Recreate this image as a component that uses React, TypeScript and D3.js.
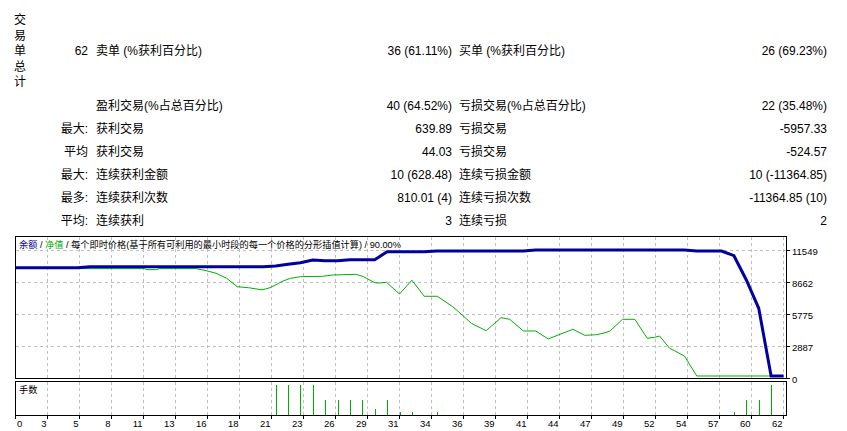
import * as d3 from "d3";

// trade statistics table
const titleChars = ["交", "易", "单", "总", "计"];
const statPrefix = ["62", "", "最大:", "平均", "最大:", "最多:", "平均:"];
const profitLabels = ["卖单 (%获利百分比)", "盈利交易(%占总百分比)", "获利交易", "获利交易", "连续获利金额", "连续获利次数", "连续获利"];
const profitValues = ["36 (61.11%)", "40 (64.52%)", "639.89", "44.03", "10 (628.48)", "810.01 (4)", "3"];
const lossLabels = ["买单 (%获利百分比)", "亏损交易(%占总百分比)", "亏损交易", "亏损交易", "连续亏损金额", "连续亏损次数", "连续亏损"];
const lossValues = ["26 (69.23%)", "22 (35.48%)", "-5957.33", "-524.57", "10 (-11364.85)", "-11364.85 (10)", "2"];

// chart axes
const xTickLabels = [0, 3, 5, 8, 11, 13, 16, 18, 21, 23, 26, 29, 31, 34, 36, 39, 41, 44, 47, 49, 52, 54, 57, 60, 62];
const yTicks = [0, 2887, 5775, 8662, 11549];

// balance after each trade (index 0..62)
const balance = [
  10000, 10000, 10000, 10000, 10000, 10000,
  10080, 10080, 10080, 10080, 10080, 10080, 10080, 10080, 10080, 10080, 10080, 10080, 10080, 10080, 10080,
  10151, 10304, 10448, 10692, 10629, 10629, 10719, 10719, 10719,
  11441, 11441, 11441, 11441,
  11504, 11504, 11504, 11504, 11504, 11504, 11504, 11504,
  11594, 11594, 11594, 11594, 11594, 11594, 11594, 11594, 11594, 11594, 11594, 11594, 11594,
  11504, 11504, 11504,
  11080, 8887, 6334, 226, 226,
];

// equity curve: position (trade number) and value
const equityPos = [0, 6.1, 10.4, 10.6, 11.4, 11.6, 14.6, 15.4, 16.2, 17.05, 17.9, 18.8, 19.9, 20.55, 21.6, 22.2, 23, 24.8, 25.6, 27.5, 28.1, 29, 29.4, 29.95, 31, 32, 33, 34.05, 35.3, 36.15, 36.8, 38, 39.2, 39.9, 41, 42, 43, 43.95, 45, 45.95, 46.9, 47.5, 48, 49, 50, 51, 51.6, 52, 52.8, 53.2, 54, 55, 62];
const equityVal = [10000, 9910, 9910, 9820, 9820, 9910, 9910, 9727, 9492, 9041, 8283, 8193, 8000, 8193, 8797, 9041, 9185, 9221, 9338, 9401, 9185, 8644, 8617, 8680, 7624, 8869, 7417, 7417, 6478, 5639, 4980, 4313, 5486, 5341, 4286, 4286, 3564, 3988, 4439, 3898, 3952, 4100, 4286, 5341, 5341, 3627, 3717, 3835, 2725, 2508, 2030, 226, 226];

// lots per trade
const lotPos = [21, 22, 23, 24, 25, 26, 27, 28, 29, 30, 31, 32, 34, 58, 59, 60, 61];
const lotVal = [1, 1, 1, 1, 0.5, 0.5, 0.5, 0.5, 0.2, 0.5, 0.1, 0.1, 0.1, 0.1, 0.5, 0.5, 1];

const FONT = "'Liberation Sans', 'Noto Sans CJK SC', sans-serif";
const BLUE = "#0000a0";
const GREEN = "#00b000";
const GRID = "#c0c0c0";

export default function App() {
  const left = 15.5, right = 786.5, top = 236.5, bottom = 378.5;
  const volTop = 381.5, volBottom = 415.5;

  const x = d3.scaleLinear().domain([0, 62]).range([15.5, 783.5]);
  const y = d3.scaleLinear().domain([0, 11549]).range([bottom, 250.5]);
  const v = d3.scaleLinear().domain([0, 1]).range([415, 385]);
  const grid = d3.scaleLinear().domain([0, xTickLabels.length - 1]).range([15.5, 783.5]);

  const balanceLine = d3.line<number>().x((_, i) => x(i)).y(d => y(d));
  const equityLine = d3.line<number>().x((_, i) => x(equityPos[i])).y(d => y(d));

  const rowY = [51, 105.5, 128.5, 151.5, 174.5, 197.5, 220.5];

  return (
    <svg width={847} height={431} style={{position: "absolute", left: 0, top: 0, background: "#fff"}}
         fontFamily={FONT}>
      {/* stats table */}
      <g fontSize={12} fill="#000" dominantBaseline="central">
        {titleChars.map((c, i) => (
          <text key={"t" + i} x={20} y={20 + i * 15.6} textAnchor="middle">{c}</text>
        ))}
        {statPrefix.map((s, i) => (
          <g key={"r" + i}>
            <text x={88} y={rowY[i]} textAnchor="end">{s}</text>
            <text x={96} y={rowY[i]}>{profitLabels[i]}</text>
            <text x={452} y={rowY[i]} textAnchor="end">{profitValues[i]}</text>
            <text x={459} y={rowY[i]}>{lossLabels[i]}</text>
            <text x={827} y={rowY[i]} textAnchor="end">{lossValues[i]}</text>
          </g>
        ))}
      </g>

      {/* grid */}
      <g stroke={GRID} strokeDasharray="3 3" shapeRendering="crispEdges">
        {xTickLabels.map((_, k) => k === 0 ? null : (
          <g key={"gx" + k}>
            <line x1={grid(k)} x2={grid(k)} y1={top} y2={bottom}/>
            <line x1={grid(k)} x2={grid(k)} y1={volTop} y2={volBottom}/>
          </g>
        ))}
        {yTicks.slice(1).map(t => (
          <line key={"gy" + t} x1={left} x2={right} y1={y(t)} y2={y(t)}/>
        ))}
      </g>

      {/* lines */}
      <path d={equityLine(equityVal) ?? ""} fill="none" stroke={GREEN} strokeWidth={1}/>
      <path d={balanceLine(balance) ?? ""} fill="none" stroke={BLUE} strokeWidth={3}/>

      {/* lots */}
      {lotPos.map((p, i) => (
        <line key={"v" + i} x1={Math.round(x(p)) + 0.5} x2={Math.round(x(p)) + 0.5} y1={415} y2={v(lotVal[i])}
              stroke={GREEN} strokeWidth={1}/>
      ))}

      {/* frames */}
      <g fill="none" stroke="#000" shapeRendering="crispEdges">
        <rect x={left} y={top} width={right - left} height={bottom - top}/>
        <rect x={left} y={volTop} width={right - left} height={volBottom - volTop}/>
      </g>
      <g stroke="#000" shapeRendering="crispEdges">
        {yTicks.map(t => (
          <line key={"yt" + t} x1={right} x2={right + 3} y1={y(t)} y2={y(t)}/>
        ))}
        {xTickLabels.map((_, k) => (
          <line key={"xt" + k} x1={grid(k)} x2={grid(k)} y1={volBottom} y2={volBottom + 3}/>
        ))}
      </g>

      {/* axis labels */}
      <g fontSize={9.5} fill="#000" dominantBaseline="central">
        {yTicks.map(t => (
          <text key={"yl" + t} x={792} y={y(t) + 1}>{t}</text>
        ))}
        {xTickLabels.map((l, k) => (
          <text key={"xl" + k} x={k === 0 ? 17 : grid(k) - 1} y={423} textAnchor={k === 0 ? "start" : "end"}>{l}</text>
        ))}
      </g>

      {/* chart captions */}
      <text x={19} y={245} fontSize={9.2} dominantBaseline="central" fill="#000">
        <tspan fill={BLUE}>余额</tspan>
        <tspan> / </tspan>
        <tspan fill={GREEN}>净值</tspan>
        <tspan> / 每个即时价格(基于所有可利用的最小时段的每一个价格的分形插值计算) / 90.00%</tspan>
      </text>
      <text x={19} y={390} fontSize={9.2} dominantBaseline="central" fill="#000">手数</text>
    </svg>
  );
}
